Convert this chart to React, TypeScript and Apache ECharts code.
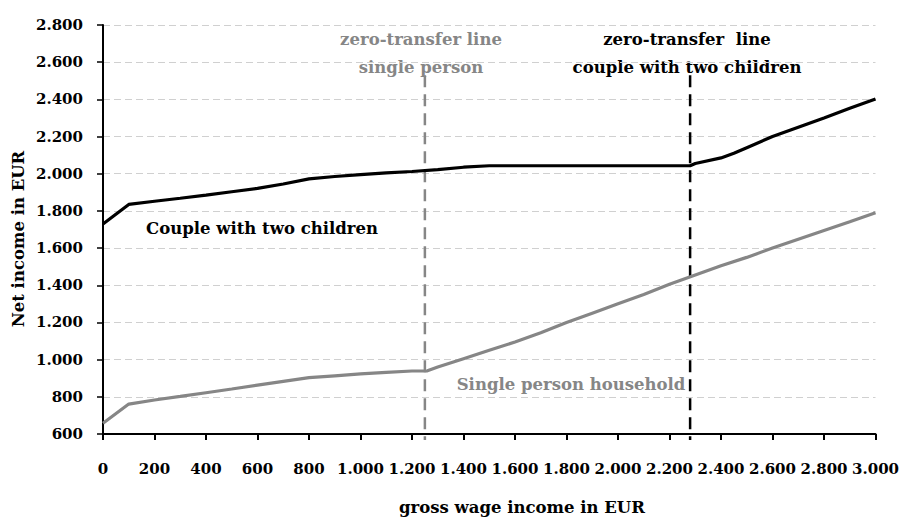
import React, { useEffect, useRef } from "react";
import * as echarts from "echarts";

const coupleX = [0, 100, 200, 300, 400, 500, 600, 700, 800, 900, 1000, 1100, 1200, 1300, 1400, 1500, 1600, 1700, 1800, 1900, 2000, 2100, 2200, 2280, 2300, 2400, 2450, 2500, 2600, 2700, 2800, 2900, 3000];
const coupleY = [1730, 1835, 1852, 1868, 1885, 1903, 1921, 1945, 1972, 1985, 1995, 2005, 2012, 2022, 2035, 2043, 2043, 2043, 2043, 2043, 2043, 2043, 2043, 2043, 2055, 2085, 2110, 2140, 2200, 2250, 2300, 2352, 2402];

const singleX = [0, 100, 200, 300, 400, 500, 600, 700, 800, 900, 1000, 1100, 1200, 1260, 1300, 1400, 1500, 1600, 1700, 1800, 1900, 2000, 2100, 2200, 2300, 2400, 2500, 2600, 2700, 2800, 2900, 3000];
const singleY = [658, 761, 783, 802, 822, 842, 863, 883, 903, 913, 923, 931, 939, 940, 960, 1005, 1050, 1095, 1145, 1200, 1250, 1300, 1350, 1405, 1455, 1505, 1550, 1600, 1648, 1695, 1742, 1790];

const zeroSingle = 1250;
const zeroCouple = 2280;
const zeroLineTop = 2530;
const zeroLineBottom = 568;

const FONT = "DejaVu Serif";
const FS = 16.5;
const AXFS = 15;
const fmt = (v: number) => {
  const s = String(Math.round(v));
  return s.replace(/\B(?=(\d{3})+(?!\d))/g, ".");
};

export default function App() {
  const ref = useRef<HTMLDivElement>(null);
  useEffect(() => {
    if (!ref.current) return;
    const chart = echarts.init(ref.current, null, { renderer: "svg" });
    const grey = "#868686";
    const font = `bold ${FS}px "${FONT}"`;
    const txt = (x: number, y: number, text: string, fill: string, extra: any = {}) => ({
      type: "text",
      x,
      y,
      ...extra,
      style: { text, fill, font, textAlign: "center", textVerticalAlign: "middle" },
    });
    chart.setOption({
      animation: false,
      backgroundColor: "#ffffff",
      grid: { left: 103, right: 24, top: 25, bottom: 83 },
      xAxis: {
        type: "value",
        min: 0,
        max: 3000,
        interval: 200,
        axisLine: { show: true, onZero: false, lineStyle: { color: "#000", width: 2 } },
        axisTick: { show: true, length: 6, lineStyle: { color: "#000", width: 2 } },
        splitLine: { show: false },
        axisLabel: { formatter: fmt, color: "#000", fontFamily: FONT, fontWeight: "bold", fontSize: AXFS, margin: 27 },
      },
      yAxis: {
        type: "value",
        min: 600,
        max: 2800,
        interval: 200,
        axisLine: { show: true, lineStyle: { color: "#000", width: 2 } },
        axisTick: { show: true, length: 6, lineStyle: { color: "#000", width: 1.5 } },
        splitLine: { show: true, lineStyle: { color: "#d0d0d0", type: [7, 4], width: 1 } },
        axisLabel: { formatter: fmt, color: "#000", fontFamily: FONT, fontWeight: "bold", fontSize: AXFS, margin: 20 },
      },
      series: [
        {
          type: "line",
          data: coupleX.map((x, i) => [x, coupleY[i]]),
          showSymbol: false,
          lineStyle: { color: "#000", width: 3.2 },
          z: 5,
        },
        {
          type: "line",
          data: singleX.map((x, i) => [x, singleY[i]]),
          showSymbol: false,
          lineStyle: { color: grey, width: 3.2 },
          z: 4,
        },
        {
          type: "line",
          data: [[zeroSingle, zeroLineTop], [zeroSingle, zeroLineBottom]],
          showSymbol: false,
          clip: false,
          lineStyle: { color: grey, width: 2.5, type: [12, 7] },
          z: 3,
        },
        {
          type: "line",
          data: [[zeroCouple, zeroLineTop], [zeroCouple, zeroLineBottom]],
          showSymbol: false,
          clip: false,
          lineStyle: { color: "#000", width: 2.5, type: [12, 7] },
          z: 3,
        },
      ],
      graphic: [
        txt(421, 39, "zero-transfer line", grey),
        txt(421, 67, "single person", grey),
        txt(687, 39, "zero-transfer  line", "#000"),
        txt(687, 67, "couple with two children", "#000"),
        txt(262, 228, "Couple with two children", "#000"),
        txt(571, 384, "Single person household", grey),
        txt(522, 507, "gross wage income in EUR", "#000"),
        txt(18, 239, "Net income in EUR", "#000", { rotation: Math.PI / 2 }),
      ],
    });
    return () => chart.dispose();
  }, []);
  return <div ref={ref} style={{ width: 902, height: 517, position: "absolute", left: 0, top: 0 }} />;
}
